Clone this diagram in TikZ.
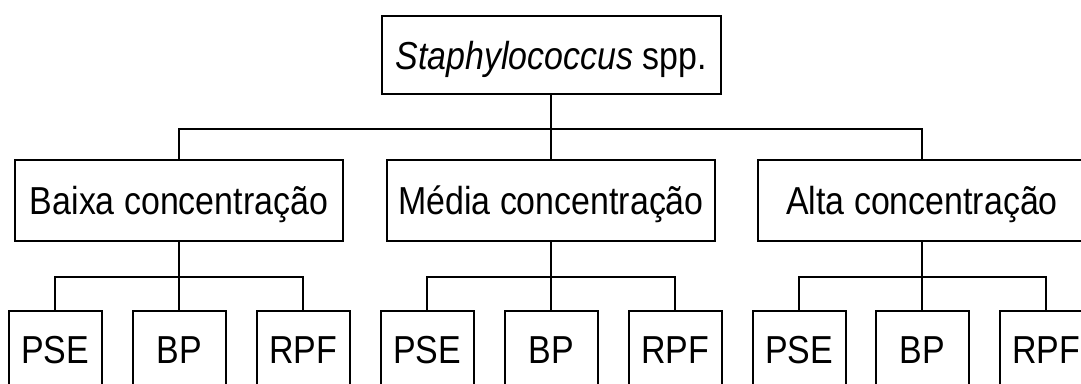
\documentclass[tikz,border=0pt]{standalone}
\usepackage{fontspec}
\setmainfont{Liberation Sans}[FakeStretch=0.87]
\tikzset{
  box/.style={draw, line width=2pt, inner sep=0pt, text height=28pt, text depth=0pt,
    font=\fontsize{39}{47}\selectfont},
  rootbox/.style={box, minimum width=339pt, minimum height=78pt},
  groupbox/.style={box, minimum width=328pt, minimum height=81pt},
  leafbox/.style={box, minimum width=93pt, minimum height=76pt},
  link/.style={line width=2pt}
}
\begin{document}
\begin{tikzpicture}[x=1pt,y=-1pt]
    \useasboundingbox (0,0) rectangle (1081,383);
    \clip (0,0) rectangle (1081,383);

    % Genus at the top
    \node[rootbox] (staph) at (551,55) {\textit{Staphylococcus} spp.};

    % Concentration levels
    \node[groupbox] (baixa) at (179,200.5) {Baixa concentração};
    \node[groupbox] (media) at (551,200.5) {Média concentração};
    \node[groupbox] (alta) at (922,200.5) {Alta concentração};

    % Leaves under each level
    \node[leafbox] (baixaPSE) at (55,349) {PSE};
    \node[leafbox] (baixaBP) at (179,349) {BP};
    \node[leafbox] (baixaRPF) at (303,349) {RPF};
    \node[leafbox] (mediaPSE) at (427,349) {PSE};
    \node[leafbox] (mediaBP) at (551,349) {BP};
    \node[leafbox] (mediaRPF) at (675,349) {RPF};
    \node[leafbox] (altaPSE) at (799,349) {PSE};
    \node[leafbox] (altaBP) at (922,349) {BP};
    \node[leafbox] (altaRPF) at (1046,349) {RPF};

    % Connectors from the genus
    \draw[link] (staph.south) -- ++(0,34) -| (baixa.north);
    \draw[link] (staph.south) -- (media.north);
    \draw[link] (staph.south) -- ++(0,34) -| (alta.north);

    % Connectors from the levels
    \draw[link] (baixa.south) -- ++(0,35) -| (baixaPSE.north);
    \draw[link] (baixa.south) -- (baixaBP.north);
    \draw[link] (baixa.south) -- ++(0,35) -| (baixaRPF.north);
    \draw[link] (media.south) -- ++(0,35) -| (mediaPSE.north);
    \draw[link] (media.south) -- (mediaBP.north);
    \draw[link] (media.south) -- ++(0,35) -| (mediaRPF.north);
    \draw[link] (alta.south) -- ++(0,35) -| (altaPSE.north);
    \draw[link] (alta.south) -- (altaBP.north);
    \draw[link] (alta.south) -- ++(0,35) -| (altaRPF.north);
\end{tikzpicture}
\end{document}
